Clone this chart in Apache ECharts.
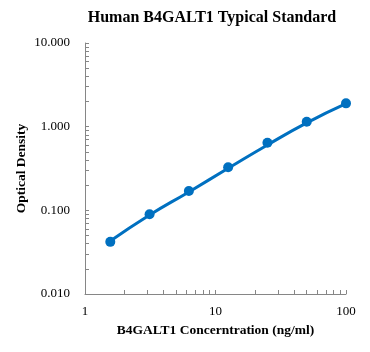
<!DOCTYPE html>
<html>
<head>
<meta charset="utf-8">
<script src="https://cdn.jsdelivr.net/npm/echarts@6/dist/echarts.min.js"></script>
<style>
  html, body { margin: 0; padding: 0; background: #fff; }
  #chart { width: 370px; height: 352px; }
</style>
</head>
<body>
<div id="chart"></div>
<script>
// standard curve data
const concentrations = [1.5625, 3.125, 6.25, 12.5, 25, 50, 100];
const odValues = [0.042, 0.090, 0.170, 0.327, 0.643, 1.145, 1.90];
const fitValues = [0.043, 0.088, 0.166, 0.318, 0.605, 1.11, 1.88];
const xTickLabels = [1, 10, 100];
const yTickLabels = [0.01, 0.1, 1, 10];

// minor ticks 1..9 of each decade
const decadeTicks = (majors) => {
  const out = [];
  majors.slice(0, -1).forEach(m => { for (let k = 1; k < 10; k++) out.push(m * k); });
  out.push(majors[majors.length - 1]);
  return out;
};

const font = 'Liberation Serif';
const axisColor = '#868686';

const chart = echarts.init(document.getElementById('chart'));
chart.setOption({
  animation: false,
  title: {
    text: 'Human B4GALT1 Typical Standard',
    left: 207, top: 5, textAlign: 'center',
    textStyle: { fontFamily: font, fontSize: 16, fontWeight: 'bold', color: '#000' }
  },
  grid: { left: 85, right: 24, top: 43, bottom: 58 },
  xAxis: {
    type: 'log', logBase: 10, min: 1, max: 100,
    name: 'B4GALT1 Concerntration (ng/ml)',
    nameLocation: 'middle', nameGap: 30,
    nameTextStyle: { fontFamily: font, fontSize: 13.5, fontWeight: 'bold', color: '#000' },
    axisLine: { lineStyle: { color: axisColor } },
    axisTick: { inside: true, length: 4, lineStyle: { color: axisColor }, customValues: decadeTicks(xTickLabels) },
    axisLabel: { fontFamily: font, fontSize: 13, color: '#000', margin: 11, customValues: xTickLabels },
    splitLine: { show: false }
  },
  yAxis: {
    type: 'log', logBase: 10, min: 0.01, max: 10,
    name: 'Optical Density',
    nameLocation: 'middle', nameGap: 56, nameRotate: 90,
    nameMoveOverlap: false,
    nameTextStyle: { fontFamily: font, fontSize: 13.5, fontWeight: 'bold', color: '#000' },
    axisLine: { show: true, lineStyle: { color: axisColor } },
    axisTick: { show: true, inside: true, length: 4, lineStyle: { color: axisColor }, customValues: decadeTicks(yTickLabels) },
    axisLabel: {
      fontFamily: font, fontSize: 13, color: '#000', margin: 15,
      customValues: yTickLabels,
      formatter: v => Number(v).toFixed(3)
    },
    splitLine: { show: false }
  },
  series: [
    {
      type: 'line',
      data: concentrations.map((c, i) => [c, fitValues[i]]),
      smooth: true,
      showSymbol: false,
      lineStyle: { color: '#0070C0', width: 3 },
      z: 2
    },
    {
      type: 'scatter',
      data: concentrations.map((c, i) => [c, odValues[i]]),
      symbolSize: 10,
      itemStyle: { color: '#0070C0', opacity: 1 },
      z: 3
    }
  ]
});
</script>
</body>
</html>
